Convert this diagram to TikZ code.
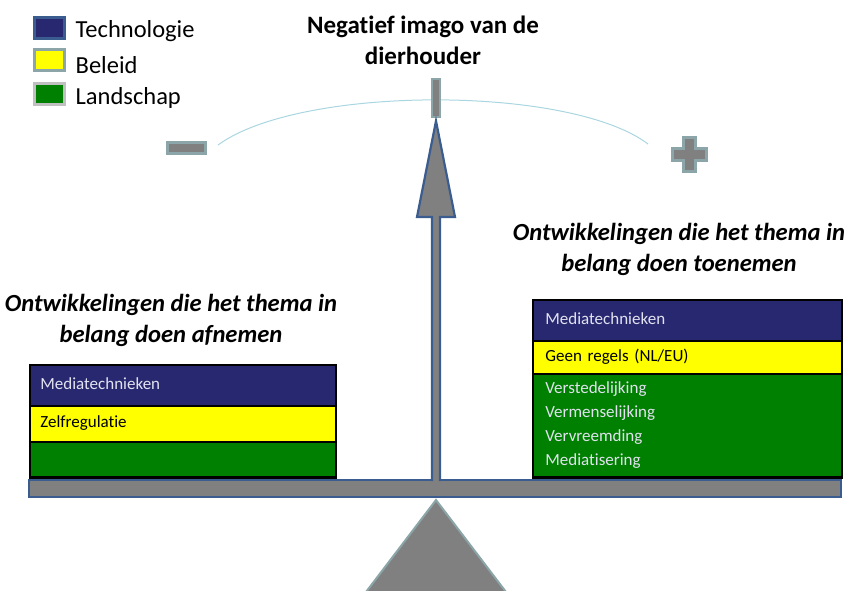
\documentclass[tikz,border=0pt]{standalone}
\usepackage{fontspec}
\setmainfont{Carlito}[Ligatures=NoCommon]
\usepackage{tikz}
\usetikzlibrary{arrows,positioning}
\definecolor{techblauw}{RGB}{40,40,112}
\definecolor{techrand}{RGB}{59,92,143}
\definecolor{beleidrand}{RGB}{139,165,168}
\definecolor{landrand}{RGB}{192,192,192}
\definecolor{landgroen}{RGB}{0,128,0}
\definecolor{beleidgeel}{RGB}{255,255,0}
\definecolor{grijs}{RGB}{128,128,128}
\definecolor{lichttekst}{RGB}{226,226,240}
\definecolor{boog}{RGB}{169,214,224}
\tikzset{
    %Define style for legend squares
    legvak/.style={
           rectangle,
           minimum width=30pt,
           minimum height=21pt,
           line width=3pt},
    legtekst/.style={
           anchor=base west,
           inner sep=0pt,
           font=\fontsize{24.5}{28}\selectfont},
    % Define styles for titles
    kop/.style={
           align=center,
           inner sep=0pt,
           font=\fontsize{25}{31}\selectfont\bfseries},
    subkop/.style={
           kop,
           font=\fontsize{24.6}{31}\selectfont\bfseries\itshape},
    % Define style for the bands in the boxes
    band/.style={
           rectangle,
           anchor=north west,
           draw=black, line width=0.8pt,
           align=left,
           text height=11pt,
           text depth=3pt,
           font=\fontsize{17}{24}\selectfont},
    techband/.style={band, fill=techblauw, text=lichttekst},
    beleidband/.style={band, fill=beleidgeel, text=black},
    landband/.style={band, fill=landgroen, text=lichttekst},
    % Define style for the gray parts of the balance
    balk/.style={
           fill=grijs,
           draw=techrand,
           line width=2.2pt},
    teken/.style={
           fill=grijs,
           draw=beleidrand,
           line width=3pt}
}
\begin{document}
\begin{tikzpicture}[x=1pt,y=-1pt]
      \useasboundingbox (0,0) rectangle (850,590);

      % legend
      \node[legvak, fill=techblauw, draw=techrand] (legtech) at (49,28) {};
      \node[legvak, fill=beleidgeel, draw=beleidrand] (legbeleid) at (49,60) {};
      \node[legvak, fill=landgroen, draw=landrand] (legland) at (49,94) {};
      \node[legtekst] (txttech) at ([xshift=10pt,yshift=-9pt]legtech.east) {Technologie};
      \node[legtekst] (txtbeleid) at ([xshift=10pt,yshift=-13pt]legbeleid.east) {Beleid};
      \node[legtekst] (txtland) at ([xshift=10pt,yshift=-10pt]legland.east) {Landschap};

      % titles
      \node[kop] (titel) at (423,40) {Negatief imago van de\\dierhouder};
      \node[subkop] (afname) at (171,320) {Ontwikkelingen die het thema in\\belang doen afnemen};
      \node[subkop] (toename) at (679,249) {Ontwikkelingen die het thema in\\belang doen toenemen};

      % scale with the arc and the signs
      \draw[boog, line width=1pt] (218,145) .. controls (300,85) and (570,85) .. (648,144);
      \draw[teken, line width=2.5pt] (432,79) rectangle (440,117);
      \draw[teken] (167.5,142.5) rectangle (205.5,153.5);
      \draw[teken] (683,137) -- (695,137) -- (695,148) -- (706,148) -- (706,160) -- (695,160)
        -- (695,171) -- (683,171) -- (683,160) -- (672,160) -- (672,148) -- (683,148) -- cycle;

      \draw[balk] (29,480) rectangle (841,497);
      \draw[balk] (432,481) -- (432,217) -- (417,217) -- (436,121) -- (455,217)
        -- (440,217) -- (440,481);
      \draw[fill=grijs, draw=beleidrand, line width=2pt] (436,500) -- (366,592) -- (506,592) -- cycle;

      % left box
      \node[techband, minimum width=305pt, minimum height=40pt, text width=285pt] (lmedia) at (30,365) {Mediatechnieken};
      \node[beleidband, minimum width=305pt, minimum height=35pt, text width=285pt, below=0pt of lmedia] (lbeleid) {Zelfregulatie};
      \node[landband, minimum width=305pt, minimum height=35pt, text width=285pt, below=0pt of lbeleid] (lland) {};
      \draw[line width=2.5pt] (lmedia.north west) rectangle (lland.south east);

      % right box
      \node[techband, minimum width=308pt, minimum height=40pt, text width=284pt] (rmedia) at (533,300) {Mediatechnieken};
      \node[beleidband, minimum width=308pt, minimum height=32pt, text width=284pt, below=0pt of rmedia] (rbeleid) {Geen regels (NL/EU)};
      \node[landband, minimum width=308pt, minimum height=103pt, text width=284pt, text height=, text depth=, below=0pt of rbeleid] (rland)
        {Verstedelijking\\Vermenselijking\\Vervreemding\\Mediatisering};
      \draw[line width=2.5pt] (rmedia.north west) rectangle (rland.south east);
  \end{tikzpicture}
\end{document}
